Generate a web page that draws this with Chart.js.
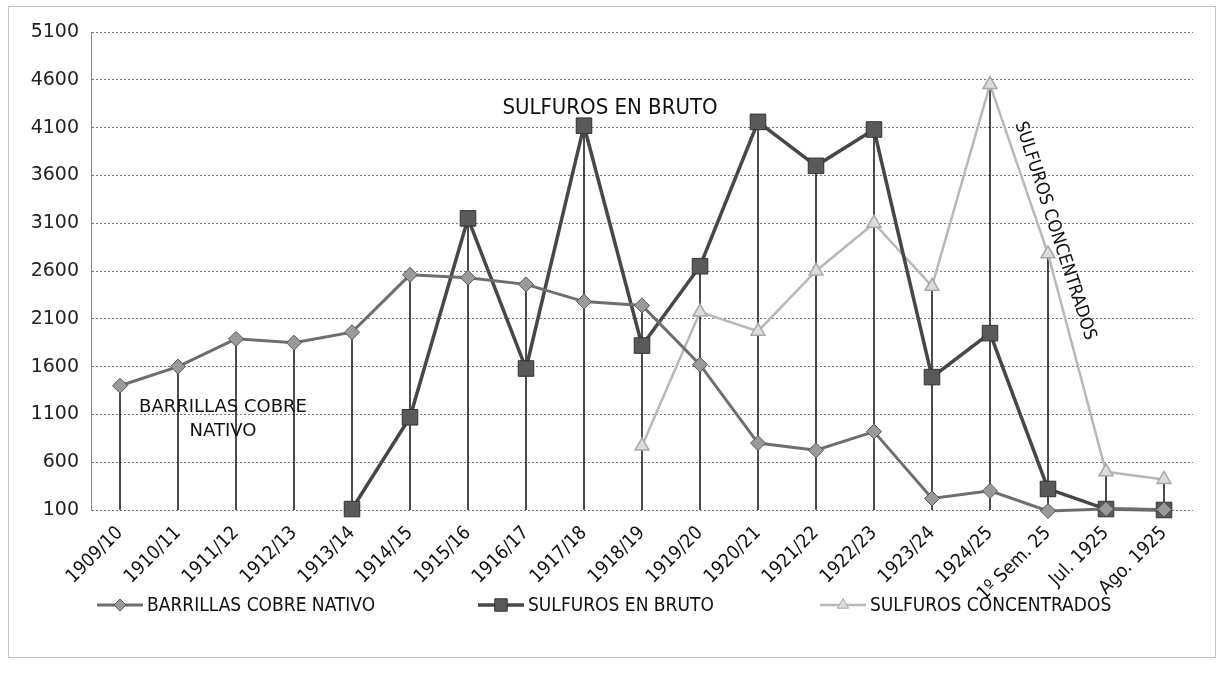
<!DOCTYPE html>
<html>
<head>
<meta charset="utf-8">
<title>Producción de cobre 1909 - 1925</title>
<script src="https://cdn.jsdelivr.net/npm/chart.js@4.4.1/dist/chart.umd.min.js"></script>
<style>
    html, body { margin: 0; padding: 0; background: #fff; }
    #wrap { position: relative; width: 1223px; height: 675px; }
</style>
</head>
<body>
<div id="wrap"><canvas id="chart" width="1223" height="675"></canvas></div>
<script>
// Categories (campaign years)
const categories = ['1909/10', '1910/11', '1911/12', '1912/13', '1913/14', '1914/15', '1915/16',
    '1916/17', '1917/18', '1918/19', '1919/20', '1920/21', '1921/22', '1922/23', '1923/24',
    '1924/25', '1º Sem. 25', 'Jul. 1925', 'Ago. 1925'];

// Series values
const barrillasValues = [1400, 1600, 1890, 1850, 1960, 2560, 2530, 2460, 2280, 2240,
    1620, 800, 725, 920, 220, 300, 90, 110, 105];
const brutoValues = [null, null, null, null, 110, 1070, 3150, 1580, 4120, 1820,
    2650, 4160, 3700, 4080, 1490, 1950, 320, 110, 100];
const concentradosValues = [null, null, null, null, null, null, null, null, null, 770,
    2170, 1970, 2600, 3100, 2440, 4550, 2780, 500, 420];

// Axis
const yMin = 100;
const yMax = 5100;
const yStep = 500;

const seriesNames = ['BARRILLAS COBRE NATIVO', 'SULFUROS EN BRUTO', 'SULFUROS CONCENTRADOS'];

const narrowFont = "'Liberation Sans Narrow', 'DejaVu Sans Condensed', sans-serif";

// Vertical drop lines from the highest point of each category
const dropLinesPlugin = {
    id: 'dropLines',
    beforeDatasetsDraw(chart) {
        const { ctx, chartArea, scales } = chart;
        ctx.save();
        ctx.strokeStyle = '#111';
        ctx.lineWidth = 1.5;
        categories.forEach((cat, i) => {
            const vals = chart.data.datasets.map(d => d.data[i]).filter(v => v != null);
            if (!vals.length) return;
            const x = scales.x.getPixelForValue(i);
            ctx.beginPath();
            ctx.moveTo(x, scales.y.getPixelForValue(Math.max(...vals)));
            ctx.lineTo(x, chartArea.bottom);
            ctx.stroke();
        });
        ctx.restore();
    }
};

// Frame, text labels inside the plot and the legend
const decorPlugin = {
    id: 'decor',
    afterDraw(chart) {
        const ctx = chart.ctx;
        ctx.save();

        // outer frame
        ctx.strokeStyle = '#888';
        ctx.lineWidth = 1;
        ctx.setLineDash([1, 1]);
        ctx.strokeRect(8.5, 6.5, 1207, 651);
        ctx.setLineDash([]);

        // labels written on the plot
        ctx.fillStyle = '#111';
        ctx.textAlign = 'center';
        ctx.textBaseline = 'middle';
        ctx.font = '22px ' + narrowFont;
        ctx.fillText('SULFUROS EN BRUTO', 610, 108);

        ctx.font = '18px "DejaVu Sans"';
        ctx.fillText('BARRILLAS COBRE', 223, 407);
        ctx.fillText('NATIVO', 223, 431);

        ctx.save();
        ctx.translate(1055, 231);
        ctx.rotate(72 * Math.PI / 180);
        ctx.font = '18px ' + narrowFont;
        ctx.fillText('SULFUROS CONCENTRADOS', 0, 0);
        ctx.restore();

        // legend
        const legendY = 605;
        const legendX = [97, 478, 820];
        chart.data.datasets.forEach((ds, i) => {
            const x0 = legendX[i];
            ctx.strokeStyle = ds.borderColor;
            ctx.lineWidth = ds.borderWidth;
            ctx.beginPath();
            ctx.moveTo(x0, legendY);
            ctx.lineTo(x0 + 46, legendY);
            ctx.stroke();
            ctx.fillStyle = ds.pointBackgroundColor;
            ctx.strokeStyle = ds.pointBorderColor;
            ctx.lineWidth = 1;
            Chart.helpers.drawPoint(ctx, {
                pointStyle: ds.pointStyle,
                radius: ds.pointRadius * 0.8,
                borderWidth: 1,
                rotation: 0
            }, x0 + 23, legendY);
            ctx.fillStyle = '#111';
            ctx.textAlign = 'left';
            ctx.font = '19px ' + narrowFont;
            ctx.fillText(ds.label, x0 + 50, legendY + 1);
        });

        ctx.restore();
    }
};

const ctx = document.getElementById('chart').getContext('2d');
const chart = new Chart(ctx, {
    type: 'line',
    data: {
        labels: categories,
        datasets: [
            {
                label: seriesNames[0],
                data: barrillasValues,
                borderColor: '#6e6e6e',
                borderWidth: 3,
                pointStyle: 'rectRot',
                pointRadius: 7.5,
                pointBackgroundColor: '#9a9a9a',
                pointBorderColor: '#555',
                pointBorderWidth: 1,
                clip: false
            },
            {
                label: seriesNames[1],
                data: brutoValues,
                borderColor: '#474747',
                borderWidth: 3.5,
                pointStyle: 'rect',
                pointRadius: 11,
                pointBackgroundColor: '#5a5a5a',
                pointBorderColor: '#333',
                pointBorderWidth: 1,
                clip: false
            },
            {
                label: seriesNames[2],
                data: concentradosValues,
                borderColor: '#b8b8b8',
                borderWidth: 2.5,
                pointStyle: 'triangle',
                pointRadius: 8,
                pointBackgroundColor: '#dcdcdc',
                pointBorderColor: '#a8a8a8',
                pointBorderWidth: 1.5,
                clip: false
            }
        ]
    },
    options: {
        responsive: false,
        animation: false,
        layout: {
            padding: { top: 32, right: 30, left: 0, bottom: 0 }
        },
        plugins: {
            legend: { display: false },
            tooltip: { enabled: false }
        },
        scales: {
            x: {
                offset: true,
                grid: { display: false },
                border: { display: false },
                ticks: {
                    autoSkip: false,
                    maxRotation: 45,
                    minRotation: 45,
                    padding: 4,
                    color: '#111',
                    font: { family: narrowFont, size: 19 }
                },
                afterFit: scale => { scale.height = 165; }
            },
            y: {
                min: yMin,
                max: yMax,
                ticks: {
                    stepSize: yStep,
                    padding: 12,
                    color: '#222',
                    font: { family: 'DejaVu Sans', size: 19 },
                    callback: value => String(value)
                },
                grid: { color: '#777', lineWidth: 1, drawTicks: false },
                border: { display: true, color: '#888', dash: [2, 2] },
                afterFit: scale => { scale.width = 91; }
            }
        }
    },
    plugins: [dropLinesPlugin, decorPlugin]
});
</script>
</body>
</html>
